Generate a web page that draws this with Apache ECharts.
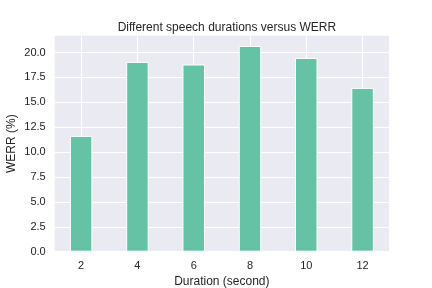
<!DOCTYPE html>
<html><head><meta charset="utf-8">
<script src="https://cdn.jsdelivr.net/npm/echarts@6/dist/echarts.min.js"></script>
<style>html,body{margin:0;padding:0;background:#fff}#c{width:432px;height:288px}</style>
</head><body><div id="c"></div>
<script>
const durations = [2, 4, 6, 8, 10, 12];
const werr = [11.63, 19.06, 18.8, 20.66, 19.46, 16.45];
const yTicks = [0, 2.5, 5, 7.5, 10, 12.5, 15, 17.5, 20];

const font = 'Liberation Sans, Arial, sans-serif';
const chart = echarts.init(document.getElementById('c'), null, {renderer: 'canvas'});
chart.setOption({
  animation: false,
  backgroundColor: '#ffffff',
  title: {
    text: 'Different speech durations versus WERR',
    left: 221.9, top: 17, textAlign: 'center',
    textStyle: {fontFamily: font, fontSize: 12, fontWeight: 'normal', color: '#262626'}
  },
  grid: {left: 54.7, right: 43, top: 35.7, bottom: 36.3, show: true, backgroundColor: '#eaeaf2', borderWidth: 0,
    containLabel: false, outerBoundsMode: 'none'},
  xAxis: {
    type: 'value', min: 1.06, max: 12.94,
    name: 'Duration (second)', nameLocation: 'middle', nameGap: 24,
    nameMoveOverlap: false,
    nameTextStyle: {fontFamily: font, fontSize: 12, color: '#262626'},
    axisLine: {show: false}, axisTick: {show: false, customValues: durations},
    axisLabel: {customValues: durations, fontFamily: font, fontSize: 11, color: '#262626', margin: 9},
    splitLine: {show: true, lineStyle: {color: '#ffffff', width: 1}}
  },
  yAxis: {
    type: 'value', min: 0, max: 21.69,
    name: 'WERR (%)', nameLocation: 'middle', nameGap: 37,
    nameMoveOverlap: false,
    nameTextStyle: {fontFamily: font, fontSize: 12, color: '#262626'},
    axisLine: {show: false}, axisTick: {show: false, customValues: yTicks},
    axisLabel: {customValues: yTicks, fontFamily: font, fontSize: 11, color: '#262626', margin: 9,
      formatter: v => v.toFixed(1)},
    splitLine: {show: true, lineStyle: {color: '#ffffff', width: 1}}
  },
  series: [{
    type: 'bar',
    data: durations.map((d, i) => [d, werr[i]]),
    barWidth: 22.5,
    itemStyle: {color: '#66c2a5', borderColor: '#ffffff', borderWidth: 1}
  }]
});
</script></body></html>
